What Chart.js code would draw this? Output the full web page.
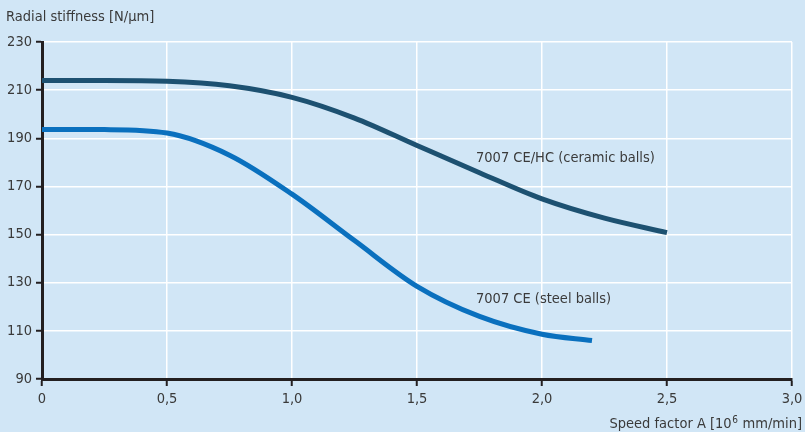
<!DOCTYPE html>
<html>
<head>
<meta charset="utf-8">
<script src="https://cdn.jsdelivr.net/npm/chart.js@4"></script>
<style>
html,body{margin:0;padding:0;background:#d1e6f6;}
#wrap{width:805px;height:432px;position:relative;}
</style>
</head>
<body>
<div id="wrap"><canvas id="c" width="805" height="432"></canvas></div>
<script>
const speedCeramic = [0, 0.25, 0.5, 0.75, 1.0, 1.25, 1.5, 1.75, 2.0, 2.25, 2.5];
const stiffCeramic = [214, 214, 213.7, 211.8, 207, 198.4, 187, 175.7, 164.8, 156.8, 150.8];
const speedSteel = [0, 0.25, 0.5, 0.75, 1.0, 1.25, 1.5, 1.75, 2.0, 2.2];
const stiffSteel = [193.7, 193.6, 192.2, 183, 166.8, 147.5, 128.5, 116, 108.6, 106];
const xTickLabels = ['0', '0,5', '1,0', '1,5', '2,0', '2,5', '3,0'];
const yTickLabels = ['90', '110', '130', '150', '170', '190', '210', '230'];
const seriesNames = ['7007 CE/HC (ceramic balls)', '7007 CE (steel balls)'];
const yTitle = 'Radial stiffness [N/µm]';
const xTitleParts = ['Speed factor A [10', '6', ' mm/min]'];

const FONT = "'DejaVu Sans Condensed', 'DejaVu Sans', sans-serif";
const FS = 14.5;
const TXT = '#3a3a3a';
const AXIS = '#231f20';

const labelPlugin = {
  id: 'labels',
  afterDraw(chart) {
    const ctx = chart.ctx;
    const xs = chart.scales.x, ys = chart.scales.y;
    ctx.save();
    ctx.fillStyle = TXT;
    ctx.font = FS + 'px ' + FONT;
    ctx.textBaseline = 'alphabetic';
    ctx.textAlign = 'left';
    ctx.fillText(yTitle, 6, 21);
    ctx.fillText(seriesNames[0], xs.getPixelForValue(1.736), ys.getPixelForValue(182.2) + 5);
    ctx.fillText(seriesNames[1], xs.getPixelForValue(1.736), ys.getPixelForValue(123.6) + 5);
    // x title, right aligned at 802 with a raised superscript
    const supFont = '10px ' + FONT;
    const w0 = ctx.measureText(xTitleParts[0]).width;
    const w2 = ctx.measureText(xTitleParts[2]).width;
    ctx.font = supFont;
    const w1 = ctx.measureText(xTitleParts[1]).width;
    let x = 802 - (w0 + w1 + w2 + 1);
    const base = 428;
    ctx.font = FS + 'px ' + FONT;
    ctx.fillText(xTitleParts[0], x, base);
    x += w0 + 0.5;
    ctx.font = supFont;
    ctx.fillText(xTitleParts[1], x, base - 5);
    x += w1 + 0.5;
    ctx.font = FS + 'px ' + FONT;
    ctx.fillText(xTitleParts[2], x, base);
    ctx.restore();
  }
};

new Chart(document.getElementById('c'), {
  type: 'line',
  data: {
    datasets: [
      {
        label: seriesNames[0],
        data: speedCeramic.map((x, i) => ({x, y: stiffCeramic[i]})),
        borderColor: '#1d5171',
        borderWidth: 5,
        pointRadius: 0,
        cubicInterpolationMode: 'monotone',
        fill: false
      },
      {
        label: seriesNames[1],
        data: speedSteel.map((x, i) => ({x, y: stiffSteel[i]})),
        borderColor: '#0a70be',
        borderWidth: 5,
        pointRadius: 0,
        cubicInterpolationMode: 'monotone',
        fill: false
      }
    ]
  },
  options: {
    responsive: false,
    animation: false,
    layout: {padding: {top: 42, right: 13, left: 0, bottom: 0}},
    plugins: {legend: {display: false}, tooltip: {enabled: false}, title: {display: false}},
    scales: {
      x: {
        type: 'linear', min: 0, max: 3,
        afterFit(s) { s.height = 53; s.paddingLeft = 0; s.paddingRight = 0; },
        afterBuildTicks(s) { s.ticks = xTickLabels.map((t, i) => ({value: i * 0.5})); },
        ticks: {
          callback: (v, i) => xTickLabels[i],
          color: TXT, font: {family: FONT, size: FS}, padding: 5, maxRotation: 0, autoSkip: false
        },
        grid: {color: '#ffffff', lineWidth: 1.5, tickColor: AXIS, tickLength: 7, tickWidth: 2},
        border: {color: AXIS, width: 3}
      },
      y: {
        type: 'linear', min: 90, max: 230,
        afterFit(s) { s.width = 42; s.paddingTop = 0; s.paddingBottom = 0; },
        afterBuildTicks(s) { s.ticks = yTickLabels.map(t => ({value: Number(t)})); },
        ticks: {
          callback: (v, i) => yTickLabels[i],
          color: TXT, font: {family: FONT, size: FS}, padding: 4, autoSkip: false
        },
        grid: {color: '#ffffff', lineWidth: 1.5, tickColor: AXIS, tickLength: 6, tickWidth: 2},
        border: {color: AXIS, width: 3}
      }
    }
  },
  plugins: [labelPlugin]
});
</script>
</body>
</html>
